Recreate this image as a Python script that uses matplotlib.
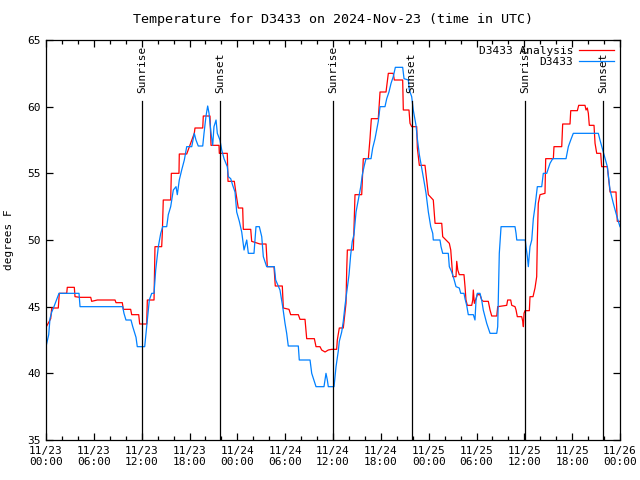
import matplotlib
matplotlib.use("Agg")
import matplotlib.pyplot as plt
import matplotlib.dates as mdates
import pandas as pd

# hours since 2024-11-23 00:00 UTC, temperature in deg F
obs_hours = [0.0, 0.34, 0.5, 0.72, 1.0, 1.63, 4.14, 4.27, 9.62, 9.78, 10.03, 10.66, 10.88, 11.08, 11.29, 11.45,
             12.38, 12.63, 12.96, 13.26, 13.55, 13.76, 14.09, 14.39, 14.64, 15.14, 15.34, 15.64, 15.97, 16.31,
             16.47, 16.72, 17.02, 17.35, 17.65, 18.28, 18.60, 18.81, 19.10, 19.66, 19.82, 20.07, 20.28, 20.45,
             20.70, 20.91, 21.07, 21.33, 21.49, 21.82, 22.04, 22.33, 22.74, 22.87, 23.17, 23.42, 23.71, 23.92,
             24.25, 24.55, 24.84, 25.18, 25.38, 26.09, 26.34, 26.76, 27.06, 27.26, 27.68, 28.64, 28.81, 29.35,
             29.69, 29.98, 30.19, 30.39, 31.65, 31.77, 33.12, 33.33, 33.87, 34.87, 35.12, 35.29, 35.41, 36.13,
             36.38, 36.67, 36.79, 37.09, 37.29, 37.51, 37.80, 38.01, 38.22, 38.42, 38.63, 38.89, 39.17, 39.48,
             39.68, 39.93, 40.14, 40.77, 40.98, 41.27, 41.48, 41.68, 41.90, 42.52, 42.74, 43.02, 43.28, 43.56,
             43.82, 44.74, 44.91, 45.45, 45.57, 45.87, 46.07, 46.41, 46.58, 46.83, 47.13, 47.42, 47.67, 47.96,
             48.26, 48.51, 48.58, 49.42, 49.55, 49.76, 50.46, 50.59, 50.89, 51.09, 51.43, 51.84, 52.02, 52.43,
             52.56, 52.77, 52.97, 53.60, 53.81, 53.94, 54.10, 54.44, 54.65, 54.85, 55.28, 55.48, 55.70, 56.54,
             56.66, 56.74, 56.86, 57.08, 58.83, 58.96, 59.05, 60.12, 60.21, 60.38, 60.50, 60.71, 60.93, 61.13,
             61.34, 61.63, 62.18, 62.38, 62.81, 63.22, 63.56, 65.23, 65.52, 65.82, 66.14, 69.28, 69.49, 69.83,
             70.12, 70.41, 70.75, 71.16, 71.50, 71.79, 72.0]
obs_temps = [42.0, 42.9, 44.1, 44.6, 45.0, 46.0, 46.0, 45.0, 45.0, 44.5, 44.0, 44.0, 43.5, 43.1, 42.7, 42.0,
             42.0, 43.5, 45.5, 46.0, 46.0, 47.75, 49.5, 50.5, 51.0, 51.0, 51.9, 52.5, 53.75, 54.0,
             53.4, 54.5, 55.25, 56.0, 57.0, 57.0, 58.0, 57.5, 57.05, 57.05, 58.0, 59.3, 60.05, 59.5,
             58.0, 57.1, 58.5, 59.0, 58.0, 57.5, 56.75, 56.1, 55.5, 54.75, 54.6, 54.1, 53.6, 52.1,
             51.4, 50.6, 49.25, 50.0, 49.0, 49.0, 51.0, 51.0, 50.25, 48.75, 48.0, 48.0, 47.0, 46.25,
             45.0, 43.75, 43.0, 42.05, 42.05, 41.0, 41.0, 40.0, 39.0, 39.0, 40.0, 39.5, 39.0, 39.0,
             40.5, 41.7, 42.4, 43.1, 43.9, 45.1, 46.4, 47.4, 48.9, 49.9, 50.4, 52.1, 53.0, 54.0,
             54.9, 55.6, 56.1, 56.1, 56.9, 57.6, 58.25, 58.9, 60.0, 60.0, 60.6, 61.1, 61.75, 62.25,
             62.95, 62.95, 62.1, 62.0, 61.25, 60.75, 59.75, 58.6, 57.6, 56.4, 55.4, 54.4, 53.5, 52.1,
             51.0, 50.5, 50.0, 50.0, 49.5, 49.0, 49.0, 48.0, 47.6, 47.25, 46.5, 46.4, 46.0, 46.0,
             45.6, 45.1, 44.4, 44.4, 44.0, 45.5, 46.0, 46.0, 45.5, 44.75, 43.75, 43.4, 43.0, 43.0,
             43.5, 45.75, 49.0, 51.0, 51.0, 50.5, 50.0, 50.0, 49.5, 48.75, 48.0, 49.5, 50.0, 51.6,
             52.5, 54.0, 54.0, 55.0, 55.0, 55.75, 56.1, 56.1, 57.0, 57.5, 58.0, 58.0, 57.5, 56.75,
             56.1, 55.5, 53.75, 52.75, 52.0, 51.4, 51.0]

ana_hours = [0.0, 0.59, 0.72, 1.54, 1.67, 2.60, 2.67, 3.55, 3.64, 4.27, 5.61, 5.73, 6.44, 8.66, 8.78, 9.57,
             9.70, 10.62, 10.75, 11.63, 11.75, 12.63, 12.71, 13.55, 13.67, 14.51, 14.59, 14.71, 15.64, 15.72,
             16.68, 16.72, 17.65, 18.60, 18.69, 19.66, 19.73, 20.57, 20.70, 21.70, 21.74, 22.74, 22.83, 23.62,
             23.83, 24.12, 24.67, 24.75, 25.68, 25.80, 26.84, 27.60, 27.76, 28.60, 28.76, 29.64, 29.77, 30.48,
             30.69, 31.65, 31.86, 32.49, 32.70, 33.66, 33.87, 34.37, 34.58, 35.00, 35.41, 35.84, 36.46, 36.54,
             36.79, 37.29, 37.63, 37.72, 37.80, 38.55, 38.76, 39.60, 39.80, 40.43, 40.64, 40.81, 41.68, 41.90,
             42.65, 42.94, 43.56, 43.69, 44.74, 44.82, 45.53, 45.66, 45.87, 46.50, 46.58, 46.83, 47.54, 47.75,
             47.96, 48.58, 48.80, 49.64, 49.76, 50.59, 50.77, 50.89, 51.02, 51.43, 51.52, 51.65, 51.84, 52.43,
             52.56, 52.68, 52.85, 53.40, 53.53, 53.60, 53.73, 53.94, 54.10, 54.44, 54.65, 54.85, 55.48, 55.70,
             55.91, 56.54, 56.66, 57.79, 57.91, 58.29, 58.42, 58.83, 58.96, 59.12, 59.67, 59.80, 59.88, 59.96,
             60.09, 60.63, 60.71, 61.09, 61.34, 61.55, 61.63, 61.75, 61.97, 62.59, 62.68, 63.64, 63.72, 64.69,
             64.81, 65.73, 65.82, 66.65, 66.82, 67.61, 67.74, 67.90, 68.03, 68.15, 68.74, 68.87, 69.08, 69.58,
             69.70, 70.41, 70.75, 71.50, 71.66, 72.0]
ana_temps = [43.45, 44.1, 44.9, 44.9, 46.0, 46.0, 46.45, 46.45, 45.75, 45.7, 45.7, 45.4, 45.5, 45.5, 45.3, 45.3,
             44.8, 44.8, 44.4, 44.4, 43.7, 43.7, 45.5, 45.5, 49.5, 49.5, 50.5, 53.0, 53.0, 55.0,
             55.0, 56.45, 56.45, 58.0, 58.4, 58.4, 59.3, 59.3, 57.1, 57.1, 56.5, 56.5, 54.4, 54.4,
             53.5, 52.4, 52.4, 50.8, 50.8, 49.9, 49.7, 49.7, 48.0, 48.0, 46.55, 46.55, 44.9, 44.8,
             44.4, 44.4, 44.05, 44.05, 42.6, 42.6, 42.0, 42.0, 41.75, 41.6, 41.75, 41.8, 41.8, 42.5,
             43.4, 43.4, 45.25, 47.75, 49.25, 49.25, 53.4, 53.4, 56.1, 56.1, 57.6, 59.1, 59.1, 61.1,
             61.1, 62.5, 62.5, 62.0, 62.0, 59.75, 59.75, 58.75, 58.5, 58.5, 56.9, 55.6, 55.6, 54.5,
             53.4, 53.0, 51.25, 51.25, 50.25, 49.75, 49.25, 48.25, 47.25, 47.25, 48.4, 47.75, 47.4, 47.4,
             46.5, 45.5, 45.1, 45.1, 45.5, 46.25, 45.25, 45.6, 45.9, 45.9, 45.5, 45.4, 45.4, 44.75,
             44.3, 44.3, 45.0, 45.1, 45.5, 45.5, 45.1, 45.0, 44.75, 44.25, 44.25, 43.9, 43.5, 44.5,
             44.7, 44.7, 45.75, 45.75, 46.4, 47.25, 50.0, 52.75, 53.4, 53.5, 56.1, 56.1, 57.0, 57.0,
             58.7, 58.7, 59.7, 59.7, 60.1, 60.1, 59.75, 59.9, 59.5, 58.6, 58.6, 57.25, 56.5, 56.5,
             55.5, 55.5, 53.6, 53.6, 51.4, 51.4]

sunrise_hours = [12.07, 36.06, 60.12]
sunset_hours = [21.86, 45.85, 69.88]

base = pd.Timestamp("2024-11-23 00:00")
def to_time(hours):
    return base + pd.to_timedelta(hours, unit="h")

plt.rcParams["font.family"] = "DejaVu Sans Mono"
plt.rcParams["font.size"] = 8

fig = plt.figure(figsize=(6.4, 4.8), dpi=100)
ax = fig.add_axes([46 / 640, 40 / 480, 574 / 640, 400 / 480])

ax.plot(to_time(ana_hours), ana_temps, color="#ff0000", lw=0.9, label="D3433 Analysis")
ax.plot(to_time(obs_hours), obs_temps, color="#0080ff", lw=0.9, label="D3433")

# sunrise / sunset markers
for h in sunrise_hours:
    t = to_time(h)
    ax.plot([t, t], [35, 60.4], color="black", lw=0.9)
    ax.text(t, 61.0, "Sunrise", rotation=90, ha="center", va="bottom", fontsize=8)
for h in sunset_hours:
    t = to_time(h)
    ax.plot([t, t], [35, 60.4], color="black", lw=0.9)
    ax.text(t, 61.0, "Sunset", rotation=90, ha="center", va="bottom", fontsize=8)

ax.set_xlim(base, to_time(72))
ax.set_ylim(35, 65)
ax.set_yticks([35, 40, 45, 50, 55, 60, 65])
ax.xaxis.set_major_locator(mdates.HourLocator(byhour=[0, 6, 12, 18]))
ax.xaxis.set_minor_locator(mdates.HourLocator(interval=2))
ax.xaxis.set_major_formatter(mdates.DateFormatter("%m/%d\n%H:%M"))
ax.tick_params(axis="both", which="both", direction="in", top=True, right=True, width=0.9)
ax.tick_params(axis="both", which="major", length=5, pad=4)
ax.tick_params(axis="x", which="minor", length=3)
for s in ax.spines.values():
    s.set_linewidth(0.9)

ax.set_ylabel("degrees F", labelpad=9)
ax.set_title("Temperature for D3433 on 2024-Nov-23 (time in UTC)", pad=12)

leg = ax.legend(loc="upper right", frameon=False, markerfirst=False, handlelength=3.2,
                borderaxespad=0.1, labelspacing=0.1, handletextpad=0.5)

fig.savefig("out.png", dpi=100)
